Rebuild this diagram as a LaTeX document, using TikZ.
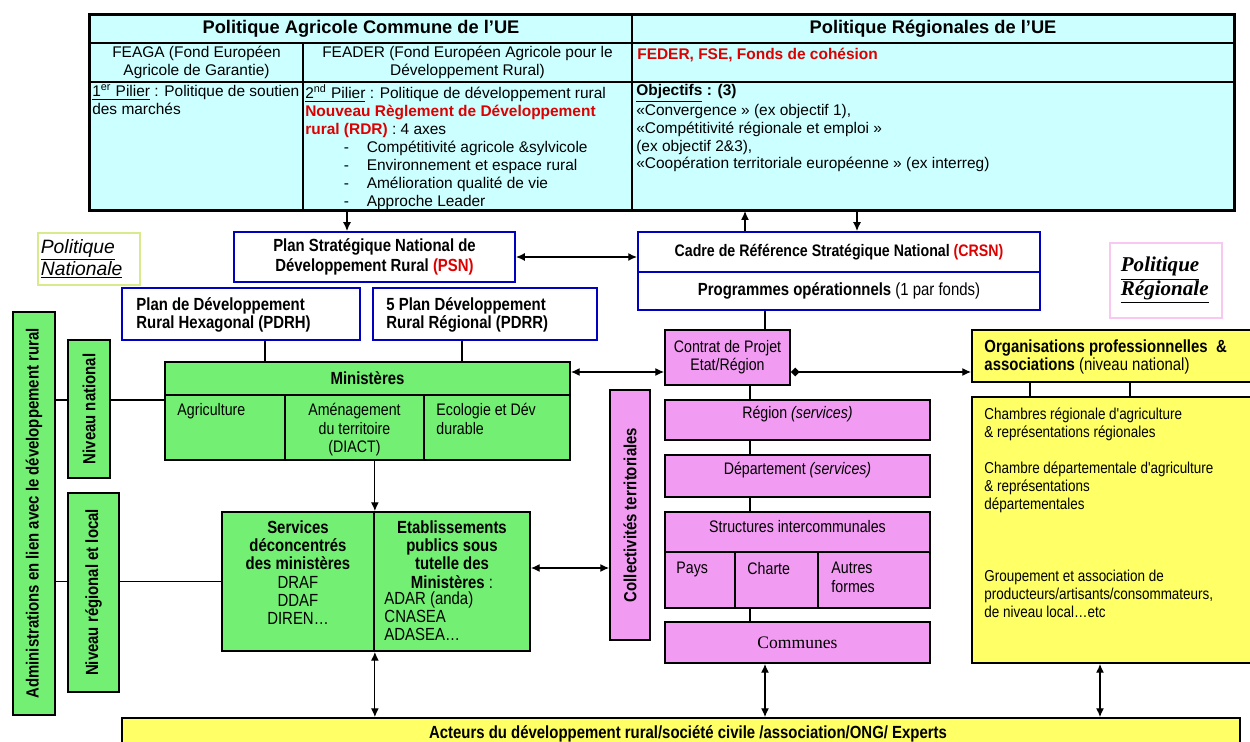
\documentclass[tikz,border=0pt]{standalone}
\usepackage{fontspec}
\setmainfont{Liberation Sans}
\newfontfamily\narrowfont[FakeStretch=0.85]{Liberation Sans}
\newfontfamily\timesfont{Liberation Serif}
\usetikzlibrary{arrows.meta,fit}
\definecolor{eucyan}{RGB}{204,255,255}
\definecolor{natgreen}{RGB}{115,240,115}
\definecolor{colpink}{RGB}{242,155,242}
\definecolor{orgyellow}{RGB}{255,255,102}
\definecolor{planblue}{RGB}{0,0,190}
\definecolor{fundred}{RGB}{220,0,0}
\definecolor{natframe}{RGB}{215,235,140}
\definecolor{regframe}{RGB}{248,200,240}
\newcommand\tabfont{\fontsize{8.8}{10.2}\selectfont}
\newcommand\labfont{\narrowfont\fontsize{10}{10.4}\selectfont}
\newcommand\pinkfont{\narrowfont\fontsize{9.5}{10.4}\selectfont}

\begin{document}
\begin{tikzpicture}[x=0.02cm,y=-0.02cm,
  cell/.style={draw=black,line width=1.2pt,fill=eucyan,inner sep=0pt},
  plan/.style={draw=planblue,line width=1.1pt,fill=white,inner sep=0pt},
  nat/.style={draw=black,line width=1pt,fill=natgreen,inner sep=0pt},
  coll/.style={draw=black,line width=1pt,fill=colpink,inner sep=0pt},
  assoc/.style={draw=black,line width=1pt,fill=orgyellow,inner sep=0pt},
  lbl/.style={inner sep=0pt,align=center},
  txt/.style={inner sep=0pt,anchor=north west,align=left},
  vtxt/.style={rotate=90,font=\labfont\bfseries,inner sep=0pt},
  link/.style={line width=0.7pt},
  arr/.style={link,-{Latex[length=5pt,width=4.5pt]}},
  dbl/.style={link,{Latex[length=5pt,width=4.5pt]}-{Latex[length=5pt,width=4.5pt]}},
  dia/.style={link,{Diamond[length=5pt,width=5pt]}-{Latex[length=5pt,width=4.5pt]}}]
\useasboundingbox (0,0) rectangle (1250,742);
\fill[white] (0,0) rectangle (1250,742);

% table UE
\node[cell,fit={(90,15) (632,43)}] (pac) {};
\node[cell,fit={(632,15) (1234,43)}] (preg) {};
\node[cell,fit={(90,43) (303,82)}] (feaga) {};
\node[cell,fit={(303,43) (632,82)}] (feader) {};
\node[cell,fit={(632,43) (1234,82)}] (fonds) {};
\node[cell,fit={(90,82) (303,210)}] (pil1) {};
\node[cell,fit={(303,82) (632,210)}] (pil2) {};
\node[cell,fit={(632,82) (1234,210)}] (obj) {};
\draw[line width=1.6pt] (pac.north west) rectangle (obj.south east);
\node[lbl,font=\fontsize{10.4}{12}\selectfont\bfseries] (pactxt) at (pac.center) {Politique Agricole Commune de l’UE};
\node[lbl,font=\fontsize{10.4}{12}\selectfont\bfseries] (pregtxt) at (preg.center) {Politique Régionales de l’UE};
\node[lbl,font=\tabfont] (feagatxt) at (feaga.center) {FEAGA (Fond Européen\\Agricole de Garantie)};
\node[lbl,font=\tabfont] (feadertxt) at (feader.center) {FEADER (Fond Européen Agricole pour le\\Développement Rural)};
\node[txt,font=\tabfont\bfseries,text=fundred] (fondstxt) at ([shift={(6,6)}]fonds.north west) {FEDER, FSE, Fonds de cohésion};
\node[txt,font=\tabfont] (pil1txt) at ([shift={(3,3)}]pil1.north west) {\underline{1\textsuperscript{er} Pilier} : Politique de soutien\\des marchés};
\node[txt,font=\tabfont] (pil2txt) at ([shift={(3,3)}]pil2.north west) {\underline{2\textsuperscript{nd} Pilier} : Politique de développement rural\\
  \textcolor{fundred}{\textbf{Nouveau Règlement de Développement}}\\
  \textcolor{fundred}{\textbf{rural (RDR)}} : 4 axes\\
  \hspace*{22pt}\makebox[13pt][l]{-}Compétitivité agricole \&sylvicole\\
  \hspace*{22pt}\makebox[13pt][l]{-}Environnement et espace rural\\
  \hspace*{22pt}\makebox[13pt][l]{-}Amélioration qualité de vie\\
  \hspace*{22pt}\makebox[13pt][l]{-}Approche Leader};
\node[txt,font=\tabfont] (objtxt) at ([shift={(5,3)}]obj.north west) {\underline{\textbf{Objectifs}} \textbf{: (3)}\\
  «Convergence » (ex objectif 1),\\
  «Compétitivité régionale et emploi »\\
  (ex objectif 2\&3),\\
  «Coopération territoriale européenne » (ex interreg)};

% plans
\node[draw=natframe,line width=0.6pt,fit={(38,233) (140,285)},inner sep=0pt] (polnat) {};
\node[txt,anchor=west,font=\fontsize{11}{12.5}\selectfont\itshape] (polnattxt) at ([shift={(3,0)}]polnat.west) {\underline{Politique}\\\underline{Nationale}};
\node[plan,fit={(234,232) (515,282)}] (psn) {};
\node[lbl,font=\labfont\bfseries] (psntxt) at (psn.center) {Plan Stratégique National de\\[1pt]Développement Rural \textcolor{fundred}{(PSN)}};
\node[plan,fit={(638,232) (1040,272)}] (crsn) {};
\node[lbl,font=\narrowfont\fontsize{9.5}{10.4}\selectfont\bfseries] (crsntxt) at (crsn.center) {Cadre de Référence Stratégique National \textcolor{fundred}{(CRSN)}};
\node[plan,fit={(638,272) (1040,310)}] (prog) {};
\node[lbl,font=\labfont] (progtxt) at (prog.center) {\textbf{Programmes opérationnels} (1 par fonds)};
\node[draw=regframe,line width=0.6pt,fit={(1110,243) (1222,318)},inner sep=0pt] (polreg) {};
\node[txt,anchor=west,font=\timesfont\fontsize{12}{13.5}\selectfont\bfseries\itshape] (polregtxt) at ([shift={(11,0)}]polreg.west) {\underline{Politique}\\\underline{Régionale}};
\node[plan,fit={(122,288) (360,340)}] (pdrh) {};
\node[txt,font=\labfont\bfseries] (pdrhtxt) at ([shift={(15,10)}]pdrh.north west) {Plan de Développement\\Rural Hexagonal (PDRH)};
\node[plan,fit={(373,288) (597,340)}] (pdrr) {};
\node[txt,font=\labfont\bfseries] (pdrrtxt) at ([shift={(14,10)}]pdrr.north west) {5 Plan Développement\\Rural Régional (PDRR)};

% administrations
\node[nat,fit={(13,312) (55,715)}] (admin) {};
\node[vtxt] (admintxt) at (admin.center) {Administrations en lien avec le développement rural};
\node[nat,fit={(68,340) (110,478)}] (nivnat) {};
\node[vtxt] (nivnattxt) at (nivnat.center) {Niveau national};
\node[nat,fit={(68,493) (119,692)}] (nivreg) {};
\node[vtxt] (nivregtxt) at (nivreg.center) {Niveau régional et local};
\node[nat,fit={(165,362) (570,395)}] (minhead) {};
\node[lbl,font=\labfont\bfseries] (minheadtxt) at (minhead.center) {Ministères};
\node[nat,fit={(165,395) (285,460)}] (agri) {};
\node[nat,fit={(285,395) (424,460)}] (amen) {};
\node[nat,fit={(424,395) (570,460)}] (ecol) {};
\node[txt,font=\pinkfont] (agritxt) at ([shift={(13,9)}]agri.north west) {Agriculture};
\node[txt,anchor=north,align=center,font=\pinkfont] (amentxt) at ([shift={(0,9)}]amen.north) {Aménagement\\du territoire\\(DIACT)};
\node[txt,font=\pinkfont] (ecoltxt) at ([shift={(13,9)}]ecol.north west) {Ecologie et Dév\\durable};
\node[nat,fit={(222,512) (374,651)}] (servdec) {};
\node[nat,fit={(374,512) (530,651)}] (etab) {};
\node[txt,anchor=north,align=center,font=\labfont] (servtxt) at ([shift={(0,9)}]servdec.north) {\textbf{Services}\\\textbf{déconcentrés}\\\textbf{des ministères}\\DRAF\\DDAF\\DIREN…};
\node[txt,anchor=north,align=center,font=\labfont] (etabtxt) at ([shift={(0,9)}]etab.north) {\textbf{Etablissements}\\\textbf{publics sous}\\\textbf{tutelle des}\\\textbf{Ministères} :};
\node[txt,font=\labfont] (etablist) at ([shift={(11,80)}]etab.north west) {ADAR (anda)\\CNASEA\\ADASEA…};

% collectivites
\node[coll,fit={(665,330) (790,385)}] (contrat) {};
\node[lbl,font=\pinkfont] (contrattxt) at (contrat.center) {Contrat de Projet\\Etat/Région};
\node[coll,fit={(610,390) (650,640)}] (collect) {};
\node[vtxt] (collecttxt) at (collect.center) {Collectivités territoriales};
\node[coll,fit={(665,400) (930,440)}] (region) {};
\node[lbl,font=\pinkfont] (regiontxt) at ([shift={(0,-6)}]region.center) {Région \textit{(services)}};
\node[coll,fit={(665,455) (930,497)}] (depart) {};
\node[lbl,font=\pinkfont] (departtxt) at ([shift={(0,-6)}]depart.center) {Département \textit{(services)}};
\node[coll,fit={(665,512) (930,552)}] (struct) {};
\node[lbl,font=\pinkfont] (structtxt) at ([shift={(0,-5)}]struct.center) {Structures intercommunales};
\node[coll,fit={(665,552) (735,608)}] (pays) {};
\node[coll,fit={(735,552) (818,608)}] (charte) {};
\node[coll,fit={(818,552) (930,608)}] (autres) {};
\node[txt,font=\pinkfont] (paystxt) at ([shift={(12,11)}]pays.north west) {Pays};
\node[txt,font=\pinkfont] (chartetxt) at ([shift={(13,11)}]charte.north west) {Charte};
\node[txt,font=\pinkfont] (autrestxt) at ([shift={(14,11)}]autres.north west) {Autres\\formes};
\node[coll,fit={(665,622) (930,663)}] (communes) {};
\node[lbl,font=\timesfont\fontsize{10}{12}\selectfont] (communestxt) at (communes.center) {Communes};

% organisations
\node[assoc,fit={(972,330) (1252,382)}] (org) {};
\node[txt,font=\labfont] (orgtxt) at ([shift={(13,10)}]org.north west) {\textbf{Organisations professionnelles\ \ \&}\\\textbf{associations} (niveau national)};
\node[assoc,fit={(972,397) (1252,663)}] (chambres) {};
\node[txt,font=\narrowfont\fontsize{9}{10.2}\selectfont] (chambrestxt) at ([shift={(13,11)}]chambres.north west) {Chambres régionale d'agriculture\\
  \& représentations régionales\\[10.8pt]
  Chambre départementale d'agriculture\\
  \& représentations\\
  départementales\\[30.6pt]
  Groupement et association de\\
  producteurs/artisants/consommateurs,\\
  de niveau local…etc};
\node[assoc,fit={(122,718) (1240,752)}] (acteurs) {};
\node[lbl,font=\labfont\bfseries] (acteurstxt) at ([shift={(7,-1)}]acteurs.center) {Acteurs du développement rural/société civile /association/ONG/ Experts};

% liens
\coordinate (xpsn) at (347,0);
\coordinate (xup) at (745,0);
\coordinate (xdown) at (857,0);
\coordinate (xcon) at (765,0);
\coordinate (xspine) at (750,0);
\coordinate (xmin1) at (265,0);
\coordinate (xmin2) at (462,0);
\coordinate (xorg1) at (1030,0);
\coordinate (xorg2) at (1130,0);
\coordinate (xact) at (1100,0);
\coordinate (ymid) at (0,372);
\coordinate (ynat) at (0,400);
\coordinate (ycol) at (0,568);
\draw[arr] (pil2.south -| xpsn) -- (psn.north -| xpsn);
\draw[arr] (crsn.north -| xup) -- (obj.south -| xup);
\draw[arr] (obj.south -| xdown) -- (crsn.north -| xdown);
\draw[dbl] (psn.east) -- (psn.east -| crsn.west);
\draw[link] (prog.south -| xcon) -- (contrat.north -| xcon);
\draw[link] (pdrh.south -| xmin1) -- (minhead.north -| xmin1);
\draw[link] (pdrr.south -| xmin2) -- (minhead.north -| xmin2);
\draw[dbl] (minhead.east |- ymid) -- (contrat.west |- ymid);
\draw[dia] (contrat.east |- ymid) -- (org.west |- ymid);
\draw[link] (org.south -| xorg1) -- (chambres.north -| xorg1);
\draw[link] (org.south -| xorg2) -- (chambres.north -| xorg2);
\draw[link] (contrat.south -| xspine) -- (region.north -| xspine);
\draw[link] (region.south -| xspine) -- (depart.north -| xspine);
\draw[link] (depart.south -| xspine) -- (struct.north -| xspine);
\draw[link] (charte.south -| xspine) -- (communes.north -| xspine);
\draw[arr] (amen.south -| servdec.north east) -- (servdec.north east);
\draw[dbl] (servdec.south east) -- (servdec.south east |- acteurs.north);
\draw[dbl] (etab.east |- ycol) -- (collect.west |- ycol);
\draw[dbl] (communes.south -| xcon) -- (acteurs.north -| xcon);
\draw[dbl] (chambres.south -| xact) -- (acteurs.north -| xact);
\draw[link] (admin.east |- ynat) -- (nivnat.west |- ynat);
\draw[link] (nivnat.east |- ynat) -- (agri.west |- ynat);
\draw[link] (admin.east |- servdec.west) -- (nivreg.west |- servdec.west);
\draw[link] (nivreg.east |- servdec.west) -- (servdec.west);
\end{tikzpicture}
\end{document}
